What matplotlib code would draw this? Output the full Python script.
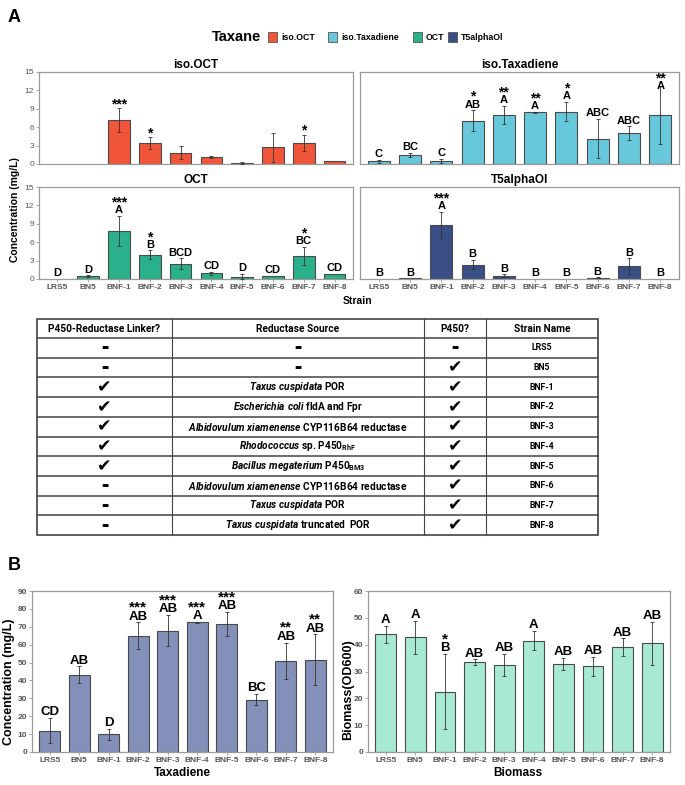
import matplotlib
matplotlib.use("Agg")
import matplotlib.pyplot as plt
from matplotlib.patches import Rectangle
import numpy as np

W, H = 685, 785

plt.rcParams["font.family"] = ["Liberation Sans", "DejaVu Sans"]
plt.rcParams["mathtext.fontset"] = "custom"
plt.rcParams["mathtext.it"] = "Roboto:italic:bold"
plt.rcParams["mathtext.rm"] = "Roboto:bold"
plt.rcParams["mathtext.bf"] = "Roboto:bold"

# ── Data ─────────────────────────────────────────────────────────────────────
strains = ["LRS5", "BN5", "BNF-1", "BNF-2", "BNF-3", "BNF-4", "BNF-5", "BNF-6", "BNF-7", "BNF-8"]

taxanes = ["iso.OCT", "iso.Taxadiene", "OCT", "T5alphaOl"]
taxane_colors = ["#F0553A", "#68C8DB", "#2BB08C", "#3A4E86"]

iso_oct = [0, 0, 7.1, 3.45, 1.85, 1.15, 0.15, 2.7, 3.4, 0.5]
iso_oct_sd = [0, 0, 1.95, 0.95, 1.1, 0.15, 0.1, 2.4, 1.35, 0]
iso_oct_letters = ["", "", "", "", "", "", "", "", "", ""]
iso_oct_stars = ["", "", "***", "*", "", "", "", "", "*", ""]

iso_tax = [0.45, 1.5, 0.5, 7.05, 7.95, 8.45, 8.55, 4.1, 5.05, 7.95]
iso_tax_sd = [0.25, 0.3, 0.3, 1.7, 1.5, 0.1, 1.55, 3.2, 1.1, 4.75]
iso_tax_letters = ["C", "BC", "C", "AB", "A", "A", "A", "ABC", "ABC", "A"]
iso_tax_stars = ["", "", "", "*", "**", "**", "*", "", "", "**"]

oct_vals = [0, 0.5, 7.85, 3.95, 2.45, 0.9, 0.4, 0.5, 3.8, 0.82]
oct_sd = [0, 0.1, 2.45, 0.7, 0.9, 0.2, 0.45, 0, 1.45, 0]
oct_letters = ["D", "D", "A", "B", "BCD", "CD", "D", "CD", "BC", "CD"]
oct_stars = ["", "", "***", "*", "", "", "", "", "*", ""]

t5 = [0, 0.1, 8.85, 2.35, 0.55, 0, 0, 0.22, 2.05, 0]
t5_sd = [0, 0, 2.1, 0.8, 0.2, 0, 0, 0.05, 1.3, 0]
t5_letters = ["B", "B", "A", "B", "B", "B", "B", "B", "B", "B"]
t5_stars = ["", "", "***", "", "", "", "", "", "", ""]

taxadiene = [12.0, 43.3, 9.8, 64.9, 67.9, 72.4, 71.6, 29.3, 51.1, 51.7]
taxadiene_sd = [7.0, 4.6, 3.3, 7.5, 8.6, 0.3, 6.7, 3.2, 10.1, 14.0]
taxadiene_letters = ["CD", "AB", "D", "AB", "AB", "A", "AB", "BC", "AB", "AB"]
taxadiene_stars = ["", "", "", "***", "***", "***", "***", "", "**", "**"]

biomass = [43.8, 42.7, 22.5, 33.5, 32.4, 41.5, 32.9, 32.0, 39.1, 40.5]
biomass_sd = [3.3, 6.2, 14.0, 1.0, 4.2, 3.5, 2.3, 3.5, 3.2, 8.0]
biomass_letters = ["A", "A", "B", "AB", "AB", "A", "AB", "AB", "AB", "AB"]
biomass_stars = ["", "", "*", "", "", "", "", "", "", ""]

# table
table_header = ["P450-Reductase Linker?", "Reductase Source", "P450?", "Strain Name"]
linker = ["-", "-", "y", "y", "y", "y", "y", "-", "-", "-"]
p450 = ["-", "y", "y", "y", "y", "y", "y", "y", "y", "y"]
red_species = ["", "", "Taxus cuspidata", "Escherichia coli", "Albidovulum xiamenense",
               "Rhodococcus", "Bacillus megaterium", "Albidovulum xiamenense",
               "Taxus cuspidata", "Taxus cuspidata"]
red_rest = ["-", "-", "POR", "fldA and Fpr", "CYP116B64 reductase",
            r"sp. P450$_{\mathrm{RhF}}$", r"P450$_{\mathrm{BM3}}$", "CYP116B64 reductase",
            "POR", "truncated  POR"]

# ── Figure ───────────────────────────────────────────────────────────────────
fig = plt.figure(figsize=(W / 100, H / 100), dpi=100)
ov = fig.add_axes([0, 0, 1, 1])
ov.set_xlim(0, W)
ov.set_ylim(H, 0)
ov.axis("off")

SPINE = "#9a9a9a"
TICK = "#555555"


def ax_px(x0, y0, x1, y1):
    return fig.add_axes([x0 / W, 1 - y1 / H, (x1 - x0) / W, (y1 - y0) / H])


def bar_panel(ax, vals, sd, color, letters, stars, ymax, step,
              lsize, ssize, tick_bold=False, cap=None):
    x = np.arange(len(strains))
    vals = np.asarray(vals, float)
    sd = np.asarray(sd, float)
    edge = ["#4a4a4a" if v > 0 else "none" for v in vals]
    ax.bar(x, vals, width=0.7, color=color, edgecolor=edge, linewidth=0.8, zorder=2)
    m = sd > 0
    ax.errorbar(x[m], vals[m], yerr=sd[m], fmt="none", ecolor="#333333",
                elinewidth=0.6, capsize=1.5, capthick=0.6, zorder=3)
    ax.set_xlim(-0.6, len(x) - 0.4)
    ax.set_ylim(0, ymax)
    ax.set_yticks(np.arange(0, ymax + step / 2, step))
    ax.set_xticks(x)
    ax.set_xticklabels(strains)
    for sp in ax.spines.values():
        sp.set_color(SPINE)
        sp.set_linewidth(0.9)
    w = "bold" if tick_bold else "normal"
    ax.tick_params(axis="both", length=2, width=0.6, color=SPINE, labelcolor=TICK,
                   labelsize=6, pad=1.5)
    for t in ax.get_yticklabels():
        t.set_fontweight(w)
    for t in ax.get_xticklabels():
        t.set_fontweight("bold")
    for i in x:
        top = vals[i] + sd[i]
        if cap is not None:
            top = min(top, cap)
        base = 2.0
        if letters[i]:
            ax.annotate(letters[i], (i, top), xytext=(0, base), textcoords="offset points",
                        ha="center", va="baseline", fontsize=lsize, fontweight="bold",
                        annotation_clip=False, zorder=4)
            base += 0.72 * lsize + 1.0
        if stars[i]:
            ax.annotate(stars[i], (i, top), xytext=(0, base - 0.2 * ssize),
                        textcoords="offset points", ha="center", va="baseline",
                        fontsize=ssize, fontweight="bold", annotation_clip=False, zorder=4)


# ── Panel A ──────────────────────────────────────────────────────────────────
ov.text(8, 18, "A", fontsize=13, fontweight="bold", va="center", ha="left")

ov.text(212, 37, "Taxane", fontsize=10.5, fontweight="bold", va="center", ha="left")
leg_x = [268, 328, 413, 448]
for lx, name, col in zip(leg_x, taxanes, taxane_colors):
    ov.add_patch(Rectangle((lx, 32), 9, 10, facecolor=col, edgecolor="#555555", linewidth=0.6))
    ov.text(lx + 13, 37, name, fontsize=6.3, fontweight="bold", va="center", ha="left")

panels_a = [
    (taxanes[0], iso_oct, iso_oct_sd, iso_oct_letters, iso_oct_stars, (39, 72, 353, 164), None),
    (taxanes[1], iso_tax, iso_tax_sd, iso_tax_letters, iso_tax_stars, (360, 72, 679, 164), 11.7),
    (taxanes[2], oct_vals, oct_sd, oct_letters, oct_stars, (39, 187, 353, 279), None),
    (taxanes[3], t5, t5_sd, t5_letters, t5_stars, (360, 187, 679, 279), None),
]
for k, (name, v, s, lt, st, box, cap) in enumerate(panels_a):
    ax = ax_px(*box)
    bar_panel(ax, v, s, taxane_colors[k], lt, st, 15, 3, 8, 10, cap=cap)
    ax.set_title(name, fontsize=8.5, fontweight="bold", pad=3)
    if k < 2:
        ax.tick_params(axis="x", bottom=False, labelbottom=False)
    if k % 2 == 1:
        ax.tick_params(axis="y", left=False, labelleft=False)

ov.text(15, 210, "Concentration (mg/L)", rotation=90, fontsize=7.5, fontweight="bold",
        ha="center", va="center")
ov.text(358, 301, "Strain", fontsize=7.5, fontweight="bold", ha="center", va="center")

# ── Table ────────────────────────────────────────────────────────────────────
col_x = [37, 172, 424, 486, 598]
t_top, t_head, t_bot = 319, 338, 535
n = len(strains)
row_h = (t_bot - t_head) / n
row_y = [t_head + row_h * (i + 0.5) for i in range(n)]
col_c = [(col_x[j] + col_x[j + 1]) / 2 for j in range(4)]

ov.add_patch(Rectangle((col_x[0], t_top), col_x[-1] - col_x[0], t_bot - t_top,
                       facecolor="none", edgecolor="#333333", linewidth=1.1))
for cx in col_x[1:-1]:
    ov.plot([cx, cx], [t_top, t_bot], color="#444444", lw=0.8)
for i in range(n):
    yy = t_head + row_h * i
    ov.plot([col_x[0], col_x[-1]], [yy, yy], color="#444444", lw=1.1)

for j, h in enumerate(table_header):
    ov.text(col_c[j], (t_top + t_head) / 2, h, fontsize=7.3, fontweight="bold",
            family="Roboto", ha="center", va="center")


def mark(xc, yc, kind):
    if kind == "y":
        ov.text(xc, yc, "\u2714", fontsize=12.5, family="DejaVu Sans", ha="center", va="center")
    else:
        ov.text(xc, yc, "\u25AC", fontsize=5.5, family="DejaVu Sans", ha="center", va="center")


for i in range(n):
    yc = row_y[i]
    mark(col_c[0], yc, linker[i])
    mark(col_c[2], yc, p450[i])
    if red_species[i]:
        sp = red_species[i].replace(" ", r"\ ")
        label = r"$\mathit{" + sp + "}$ " + red_rest[i]
        ov.text(col_c[1], yc, label, fontsize=7.3, fontweight="bold", family="Roboto",
                ha="center", va="center")
    else:
        mark(col_c[1], yc, red_rest[i])
    ov.text(col_c[3], yc, strains[i], fontsize=6.3, fontweight="bold", family="Roboto",
            ha="center", va="center")

# ── Panel B ──────────────────────────────────────────────────────────────────
ov.text(8, 566, "B", fontsize=13, fontweight="bold", va="center", ha="left")

axb1 = ax_px(32, 591, 333, 752)
bar_panel(axb1, taxadiene, taxadiene_sd, "#8390B9", taxadiene_letters, taxadiene_stars,
          90, 10, 9.5, 11, tick_bold=True)
axb2 = ax_px(368, 591, 670, 752)
bar_panel(axb2, biomass, biomass_sd, "#A7E9D4", biomass_letters, biomass_stars,
          60, 10, 9.5, 11, tick_bold=True)

ov.text(9, 682, "Concentration (mg/L)", rotation=90, fontsize=9, fontweight="bold",
        ha="center", va="center")
ov.text(182, 773, "Taxadiene", fontsize=8.5, fontweight="bold", ha="center", va="center")
ov.text(348, 690, "Biomass(OD600)", rotation=90, fontsize=9, fontweight="bold",
        ha="center", va="center")
ov.text(518, 773, "Biomass", fontsize=8.5, fontweight="bold", ha="center", va="center")

fig.savefig("out.png", dpi=100)
